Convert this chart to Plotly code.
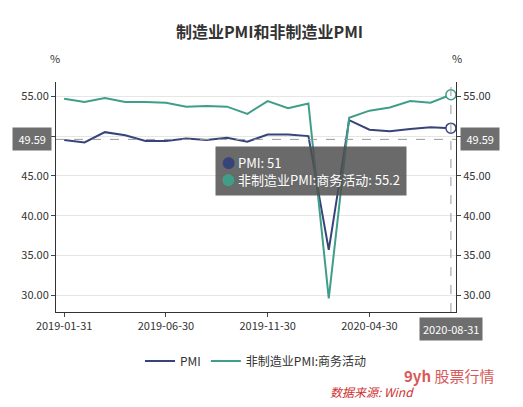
import plotly.graph_objects as go

dates = ["2019-01-31", "2019-02-28", "2019-03-31", "2019-04-30", "2019-05-31", "2019-06-30",
         "2019-07-31", "2019-08-31", "2019-09-30", "2019-10-31", "2019-11-30", "2019-12-31",
         "2020-01-31", "2020-02-29", "2020-03-31", "2020-04-30", "2020-05-31", "2020-06-30",
         "2020-07-31", "2020-08-31"]
pmi = [49.5, 49.2, 50.5, 50.1, 49.4, 49.4, 49.7, 49.5, 49.8, 49.3, 50.2, 50.2,
       50.0, 35.7, 52.0, 50.8, 50.6, 50.9, 51.1, 51.0]
nonmfg = [54.7, 54.3, 54.8, 54.3, 54.3, 54.2, 53.7, 53.8, 53.7, 52.8, 54.4, 53.5,
          54.1, 29.6, 52.3, 53.2, 53.6, 54.4, 54.2, 55.2]
tick_dates = ["2019-01-31", "2019-06-30", "2019-11-30", "2020-04-30"]
cross_y = 49.59

c1, c2 = "#37447a", "#3f9e89"
fig = go.Figure()
fig.add_trace(go.Scatter(x=dates, y=pmi, name="PMI", mode="lines", line=dict(color=c1, width=2)))
fig.add_trace(go.Scatter(x=dates, y=nonmfg, name="非制造业PMI:商务活动", mode="lines",
                         line=dict(color=c2, width=2)))
fig.add_trace(go.Scatter(x=[dates[-1], dates[-1]], y=[pmi[-1], nonmfg[-1]], mode="markers",
                         showlegend=False, hoverinfo="skip",
                         marker=dict(size=10, color="white", line=dict(color=[c1, c2], width=1.5))))
fig.add_trace(go.Scatter(x=dates, y=pmi, yaxis="y2", mode="lines", opacity=0, showlegend=False,
                         hoverinfo="skip"))

fig.add_shape(type="line", xref="paper", x0=0, x1=1, y0=cross_y, y1=cross_y,
              line=dict(color="#999", width=1, dash="dash"))
fig.add_shape(type="line", x0=dates[-1], x1=dates[-1], yref="paper", y0=0, y1=1,
              line=dict(color="#999", width=1, dash="dash"))

yr = [27.9, 56.8]
ax = dict(range=yr, tickvals=[30, 35, 40, 45, 50, 55], ticktext=["30.00", "35.00", "40.00", "45.00", "50.00", "55.00"],
          showline=True, linecolor="#333", ticks="outside", ticklen=4,
          tickfont=dict(size=11, color="#333"))
fig.update_layout(
    width=523, height=407, plot_bgcolor="white", paper_bgcolor="white",
    font=dict(family="Noto Sans CJK SC", color="#333"),
    title=dict(text="<b>制造业PMI和非制造业PMI</b>", x=0.5, y=0.955, font=dict(size=16)),
    margin=dict(l=48, r=75, t=74, b=103, autoexpand=False),
    xaxis=dict(type="category", range=[-0.4, 19.25], tickvals=tick_dates, ticktext=tick_dates,
               showline=True, linecolor="#333", ticks="outside", ticklen=4, showgrid=False,
               tickfont=dict(size=11)),
    yaxis=dict(**ax, showgrid=True, gridcolor="#e6e6e6"),
    yaxis2=dict(**ax, showgrid=False, overlaying="y", side="right"),
    legend=dict(orientation="h", x=0.5, xanchor="center", y=-0.15, font=dict(size=12)),
)

ann = [
    dict(text="%", xref="paper", yref="paper", x=-0.02, y=1.15, showarrow=False, font=dict(size=11)),
    dict(text="%", xref="paper", yref="paper", x=1.02, y=1.15, showarrow=False, font=dict(size=11)),
    dict(text=f" {cross_y:.2f} ", xref="paper", x=-0.01, xanchor="right", y=cross_y, showarrow=False,
         bgcolor="#6e6e6e", borderpad=3, font=dict(color="white", size=11)),
    dict(text=f" {cross_y:.2f} ", xref="paper", x=1.01, xanchor="left", y=cross_y, showarrow=False,
         bgcolor="#6e6e6e", borderpad=3, font=dict(color="white", size=11)),
    dict(text="2020-08-31", x=dates[-1], yref="paper", y=-0.02, yanchor="top", showarrow=False,
         bgcolor="#6e6e6e", borderpad=3, font=dict(color="white", size=11)),
    dict(text=f"<span style='color:{c1}'>●</span> PMI: {pmi[-1]:g}<br>"
              f"<span style='color:{c2}'>●</span> 非制造业PMI:商务活动: {nonmfg[-1]:g}",
         x=dates[7], xshift=8, y=45.6, xanchor="left", yanchor="middle", align="left", showarrow=False,
         bgcolor="rgba(80,80,80,0.85)", borderpad=6, font=dict(color="white", size=13)),
    dict(text="<i>数据来源: Wind</i>", xref="paper", yref="paper", x=0.9, y=-0.39, showarrow=False,
         font=dict(color="#d03030", size=12)),
    dict(text="<b>9yh</b> 股票行情", xref="paper", yref="paper", x=1.1, y=-0.33, showarrow=False,
         font=dict(color="#d03030", size=15), opacity=0.8),
]
fig.update_layout(annotations=ann)
fig.write_html("out.html")
